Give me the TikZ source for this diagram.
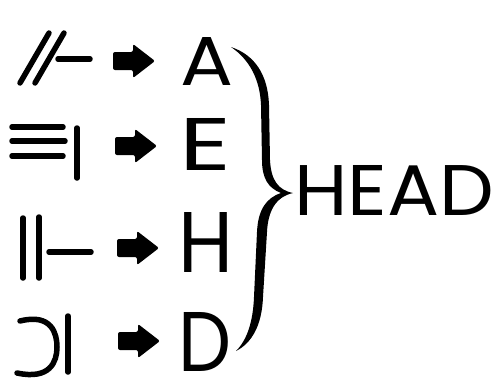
\documentclass[tikz,border=0pt]{standalone}
\usepackage{fontspec}
\setmainfont{Poppins}
\usepackage{graphicx}
\begin{document}
\begin{tikzpicture}[x=1pt,y=-1pt,
  glyph/.style={line width=5.5pt, line cap=round},
  letter/.style={anchor=base west, inner sep=0pt, outer sep=0pt},
  blockarrow/.pic={\fill[rounded corners=2pt] (0,-9) -- (20,-9) -- (20,-17) -- (42,0) -- (20,17) -- (20,9) -- (0,9) -- cycle;}]
\useasboundingbox (0,0) rectangle (496,378);
\fill[white] (0,0) rectangle (496,378);
% row 1: // -
\draw[glyph] (20,83) -- (49,33);
\draw[glyph] (35,83) -- (64,33);
\draw[glyph] (58,59) -- (90,59);
\pic at (113,61) {blockarrow};
\node[letter] (lA) at (180,85) {\resizebox{53pt}{48pt}{A}};
% row 2: three lines and bar
\draw[glyph] (12,127) -- (63,127);
\draw[glyph] (12,141) -- (65,141);
\draw[glyph] (12,156) -- (63,156);
\draw[glyph] (77,128) -- (77,178);
\pic at (115,146) {blockarrow};
\node[letter] (lE) at (179,170) {\resizebox{52pt}{52pt}{E}};
% row 3: two verticals and dash
\draw[glyph] (23,218) -- (23,278);
\draw[glyph] (39,217) -- (39,278);
\draw[glyph] (49,252) -- (91,252);
\pic at (117,248) {blockarrow};
\node[letter] (lH) at (178,272) {\resizebox{55pt}{60pt}{H}};
% row 4: curve and bar
\draw[glyph] (20,321) .. controls (52,313) and (57,334) .. (57,347) .. controls (57,362) and (50,380) .. (17,373);
\draw[glyph] (68,316) -- (68,372);
\pic at (118,341) {blockarrow};
\node[letter] (lD) at (178,371) {\resizebox{53pt}{59pt}{D}};
% brace
\fill (231,47) .. controls (255,55) and (268,75) .. (269,105) -- (270,160)
  .. controls (271,180) and (278,190) .. (293,193)
  .. controls (275,197) and (268,212) .. (267,232) -- (263,297)
  .. controls (262,325) and (252,343) .. (236,351)
  .. controls (247,340) and (253,322) .. (254,297) -- (257,232)
  .. controls (258,210) and (266,198) .. (281,193)
  .. controls (268,188) and (262,178) .. (262,160) -- (261,105)
  .. controls (260,80) and (250,60) .. (231,47) -- cycle;
\node[letter] (head) at (294,215) {\resizebox{200pt}{50pt}{HEAD}};
\end{tikzpicture}
\end{document}
